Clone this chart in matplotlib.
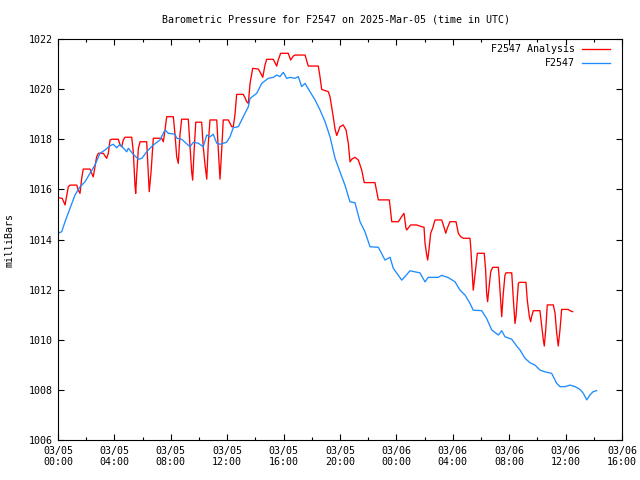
import matplotlib
matplotlib.use("Agg")
import matplotlib.pyplot as plt
from matplotlib.ticker import MultipleLocator

plt.rcParams['font.family'] = ['DejaVu Sans Mono']

title = "Barometric Pressure for F2547 on 2025-Mar-05 (time in UTC)"
ylabel = "milliBars"

# hours since 2025-03-05 00:00 UTC
obs_hours = [0.0, 0.26, 0.5, 0.85, 1.2, 1.56, 1.91, 2.27, 2.62, 2.98, 3.33, 3.69, 3.92, 4.16, 4.4,
             4.87, 4.99, 5.34, 5.7, 5.94, 6.4, 6.76, 7.23, 7.59, 7.82, 8.3, 8.42, 8.77, 9.36, 9.6,
             9.95, 10.3, 10.55, 10.78, 11.01, 11.26, 11.49, 11.96, 12.2, 12.43, 12.79, 13.14, 13.5,
             13.62, 14.09, 14.45, 14.91, 15.27, 15.51, 15.74, 15.98, 16.22, 16.45, 16.81, 17.04,
             17.28, 17.52, 17.87, 18.23, 18.58, 18.94, 19.29, 19.65, 20.0, 20.35, 20.71, 21.06,
             21.42, 21.77, 22.13, 22.72, 23.19, 23.55, 23.78, 24.38, 24.61, 24.96, 25.67, 26.03,
             26.26, 26.97, 27.21, 27.68, 28.16, 28.51, 28.87, 29.22, 29.45, 30.05, 30.4, 30.76,
             31.23, 31.47, 31.7, 32.18, 32.53, 32.77, 33.12, 33.48, 33.83, 34.18, 34.54, 35.01,
             35.37, 35.6, 35.96, 36.31, 36.67, 37.02, 37.26, 37.5, 37.73, 37.96, 38.2]
obs_values = [1014.25, 1014.31, 1014.71, 1015.24, 1015.77, 1016.1, 1016.3, 1016.64, 1016.97, 1017.44,
              1017.57, 1017.74, 1017.8, 1017.66, 1017.8, 1017.5, 1017.64, 1017.4, 1017.2, 1017.24,
              1017.57, 1017.77, 1017.97, 1018.37, 1018.24, 1018.2, 1018.04, 1018.0, 1017.7, 1017.88,
              1017.84, 1017.7, 1018.17, 1018.1, 1018.2, 1017.84, 1017.8, 1017.88, 1018.1, 1018.46,
              1018.5, 1018.9, 1019.3, 1019.63, 1019.83, 1020.23, 1020.43, 1020.47, 1020.56, 1020.5,
              1020.67, 1020.43, 1020.47, 1020.43, 1020.5, 1020.1, 1020.23, 1019.9, 1019.57, 1019.17,
              1018.7, 1018.1, 1017.24, 1016.7, 1016.17, 1015.5, 1015.47, 1014.71, 1014.31, 1013.71,
              1013.69, 1013.18, 1013.29, 1012.85, 1012.38, 1012.52, 1012.75, 1012.67, 1012.31,
              1012.49, 1012.49, 1012.57, 1012.48, 1012.31, 1011.98, 1011.78, 1011.45, 1011.18,
              1011.16, 1010.85, 1010.39, 1010.19, 1010.36, 1010.12, 1010.02, 1009.75, 1009.59,
              1009.26, 1009.08, 1008.99, 1008.79, 1008.72, 1008.66, 1008.26, 1008.13, 1008.13,
              1008.19, 1008.13, 1008.02, 1007.86, 1007.6, 1007.8, 1007.93, 1007.97]

ana_hours = [0.0, 0.3, 0.5, 0.73, 0.85, 1.33, 1.44, 1.56, 1.68, 1.79, 2.27, 2.39, 2.5, 2.62, 2.74,
             2.86, 3.21, 3.45, 3.57, 3.69, 3.81, 4.28, 4.4, 4.52, 4.63, 4.75, 5.23, 5.34, 5.46, 5.51,
             5.58, 5.7, 5.82, 6.29, 6.4, 6.47, 6.6, 6.76, 7.35, 7.47, 7.59, 7.71, 8.18, 8.3, 8.42,
             8.53, 8.65, 8.77, 9.24, 9.36, 9.48, 9.55, 9.65, 9.77, 10.19, 10.3, 10.43, 10.55, 10.66,
             10.78, 11.26, 11.37, 11.49, 11.61, 11.72, 12.08, 12.32, 12.43, 12.55, 12.67, 13.14,
             13.26, 13.38, 13.5, 13.62, 13.81, 14.21, 14.38, 14.52, 14.68, 14.8, 15.27, 15.51,
             15.62, 15.79, 16.33, 16.5, 16.69, 16.81, 17.52, 17.75, 18.46, 18.58, 18.7, 18.94,
             19.17, 19.29, 19.52, 19.65, 19.77, 20.0, 20.23, 20.43, 20.59, 20.71, 20.83, 21.06,
             21.3, 21.54, 21.72, 22.48, 22.72, 23.5, 23.67, 24.14, 24.45, 24.54, 24.68, 24.73,
             25.01, 25.44, 25.79, 25.96, 26.03, 26.15, 26.22, 26.31, 26.43, 26.57, 26.74, 27.21,
             27.38, 27.5, 27.61, 27.8, 28.23, 28.39, 28.56, 28.75, 29.22, 29.27, 29.41, 29.45,
             29.52, 29.65, 29.74, 30.23, 30.33, 30.4, 30.47, 30.55, 30.69, 30.83, 31.23, 31.3,
             31.42, 31.47, 31.58, 31.7, 31.77, 32.18, 32.29, 32.41, 32.48, 32.65, 32.72, 33.19,
             33.28, 33.43, 33.52, 33.59, 33.71, 34.18, 34.3, 34.42, 34.49, 34.59, 34.7, 35.13,
             35.25, 35.37, 35.48, 35.6, 35.72, 36.19, 36.31, 36.5]
ana_values = [1015.67, 1015.64, 1015.38, 1016.1, 1016.17, 1016.17, 1015.97, 1015.84, 1016.44, 1016.81,
              1016.81, 1016.64, 1016.5, 1016.9, 1017.3, 1017.44, 1017.44, 1017.24, 1017.44, 1017.97,
              1018.0, 1018.0, 1017.77, 1017.7, 1017.97, 1018.08, 1018.08, 1017.5, 1016.17, 1015.84,
              1016.57, 1017.64, 1017.9, 1017.9, 1016.7, 1015.91, 1016.7, 1018.04, 1018.04, 1017.9,
              1018.37, 1018.9, 1018.9, 1018.17, 1017.3, 1017.04, 1018.17, 1018.8, 1018.8, 1017.77,
              1016.7, 1016.37, 1017.5, 1018.68, 1018.68, 1017.7, 1016.97, 1016.41, 1017.84, 1018.77,
              1018.77, 1017.57, 1016.41, 1017.57, 1018.77, 1018.77, 1018.5, 1018.5, 1018.97, 1019.79,
              1019.79, 1019.66, 1019.5, 1019.43, 1020.23, 1020.83, 1020.8, 1020.63, 1020.47, 1020.96,
              1021.19, 1021.19, 1020.92, 1021.16, 1021.43, 1021.43, 1021.16, 1021.32, 1021.36,
              1021.36, 1020.92, 1020.92, 1020.5, 1019.99, 1019.94, 1019.9, 1019.7, 1018.9, 1018.4,
              1018.15, 1018.5, 1018.57, 1018.37, 1017.84, 1017.1, 1017.2, 1017.28, 1017.17, 1016.77,
              1016.27, 1016.27, 1015.58, 1015.58, 1014.71, 1014.71, 1014.98, 1015.04, 1014.45,
              1014.38, 1014.58, 1014.58, 1014.51, 1014.49, 1013.85, 1013.38, 1013.18, 1013.6,
              1014.25, 1014.45, 1014.78, 1014.78, 1014.49, 1014.25, 1014.45, 1014.71, 1014.71,
              1014.25, 1014.11, 1014.05, 1014.05, 1013.71, 1012.38, 1011.98, 1012.31, 1012.98,
              1013.45, 1013.45, 1012.78, 1011.85, 1011.52, 1011.98, 1012.72, 1012.89, 1012.89,
              1012.38, 1011.32, 1010.92, 1011.85, 1012.58, 1012.67, 1012.67, 1011.65, 1010.65,
              1010.92, 1012.25, 1012.29, 1012.29, 1011.59, 1010.92, 1010.72, 1010.92, 1011.16,
              1011.16, 1010.59, 1009.99, 1009.75, 1010.39, 1011.39, 1011.39, 1011.06, 1010.26,
              1009.75, 1010.39, 1011.21, 1011.21, 1011.16, 1011.12]

xtick_hours = [0, 4, 8, 12, 16, 20, 24, 28, 32, 36, 40]
xtick_labels = ["03/05\n00:00", "03/05\n04:00", "03/05\n08:00", "03/05\n12:00", "03/05\n16:00",
                "03/05\n20:00", "03/06\n00:00", "03/06\n04:00", "03/06\n08:00", "03/06\n12:00",
                "03/06\n16:00"]
yticks = [1006, 1008, 1010, 1012, 1014, 1016, 1018, 1020, 1022]

series_names = ["F2547 Analysis", "F2547"]
series_colors = ["#ff0000", "#1e8cff"]

FS = 7.2

fig = plt.figure(figsize=(6.4, 4.8), dpi=100)
ax = fig.add_axes([58 / 640, 40 / 480, 564 / 640, 401 / 480])

ax.plot(ana_hours, ana_values, color=series_colors[0], lw=0.95)
ax.plot(obs_hours, obs_values, color=series_colors[1], lw=0.95)

ax.set_xlim(0, 40)
ax.set_ylim(1006, 1022)
ax.set_xticks(xtick_hours)
ax.set_xticklabels(xtick_labels, fontsize=FS)
ax.xaxis.set_minor_locator(MultipleLocator(2))
ax.set_yticks(yticks)
ax.set_yticklabels([str(v) for v in yticks], fontsize=FS)
ax.tick_params(which='both', direction='in', top=True, right=True, width=0.8)
ax.tick_params(which='major', length=4.5, pad=4)
ax.tick_params(which='minor', length=2.5)
for s in ax.spines.values():
    s.set_linewidth(0.8)

fig.text(336 / 640, 1 - 19 / 480, title, ha='center', va='center', fontsize=FS)
fig.text(10 / 640, 240 / 480, ylabel, rotation=90, ha='center', va='center', fontsize=FS)

# legend (top right, text right-aligned before the sample line)
for i, (name, col) in enumerate(zip(series_names, series_colors)):
    yy = 1 - (10 + i * 14) / 401
    ax.text(1 - 47 / 564, yy, name, transform=ax.transAxes, ha='right', va='center', fontsize=FS)
    ax.plot([1 - 40 / 564, 1 - 12 / 564], [yy, yy], transform=ax.transAxes, color=col, lw=0.95)

fig.savefig("out.png", dpi=100)
